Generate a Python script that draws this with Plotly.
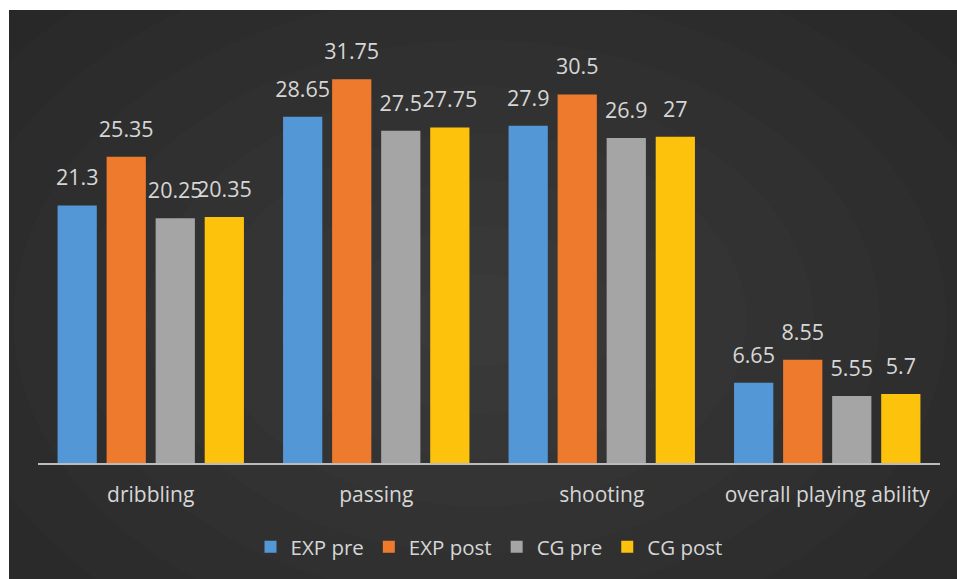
import plotly.graph_objects as go

categories = ["dribbling", "passing", "shooting", "overall playing ability"]
series_names = ["EXP pre", "EXP post", "CG pre", "CG post"]
exp_pre = [21.3, 28.65, 27.9, 6.65]
exp_post = [25.35, 31.75, 30.5, 8.55]
cg_pre = [20.25, 27.5, 26.9, 5.55]
cg_post = [20.35, 27.75, 27, 5.7]
series_values = [exp_pre, exp_post, cg_pre, cg_post]
colors = ["#5497d6", "#ee7a2e", "#a5a5a5", "#fdc20c"]

FONT = "Open Sans"
TXT = "#d6d6d6"

fig = go.Figure()
for i, (name, vals, col) in enumerate(zip(series_names, series_values, colors)):
    fig.add_trace(go.Bar(
        x=categories, y=vals, name=name, marker=dict(color=col, line=dict(width=0)),
        offsetgroup=str(i), hoverinfo="skip"))
for i, (name, vals) in enumerate(zip(series_names, series_values)):
    fig.add_trace(go.Scatter(
        x=categories, y=vals, mode="markers+text", text=[f"{v:g}" for v in vals],
        textposition="top center", marker=dict(size=22, opacity=0),
        textfont=dict(family=FONT, size=21.5, color=TXT),
        offsetgroup=str(i), showlegend=False, hoverinfo="skip", cliponaxis=False))

# background: white frame + dark panel with soft radial lightening
L, R, T, B = 38, 17, 40, 116
W, H = 957, 579
pw, ph = W - L - R, H - T - B
def px(x):
    return (x - L) / pw
def py(y):
    return (H - B - y) / ph

shapes = [dict(type="rect", xref="paper", yref="paper", x0=px(9), x1=px(957), y0=py(579), y1=py(10),
               fillcolor="#282828", line=dict(width=0), layer="below")]
n = 9
for k in range(n):
    f = 1 - k / n
    cx, cy = 480, 320
    rx, ry = 600 * f, 420 * f
    shapes.append(dict(type="circle", xref="paper", yref="paper",
                       x0=px(cx - rx), x1=px(cx + rx), y0=py(cy + ry), y1=py(cy - ry),
                       fillcolor="rgba(255,255,255,0.012)", line=dict(width=0), layer="below"))

fig.update_layout(
    width=W, height=H,
    margin=dict(l=L, r=R, t=T, b=B),
    paper_bgcolor="white", plot_bgcolor="rgba(0,0,0,0)",
    barmode="group", bargap=0.13, bargroupgap=0.2,
    scattermode="group", scattergap=0.13,
    shapes=shapes,
    font=dict(family=FONT, size=21, color=TXT),
    xaxis=dict(showgrid=False, showline=True, linecolor="#bcbcbc", linewidth=2,
               ticks="outside", ticklen=12, tickcolor="rgba(0,0,0,0)",
               tickfont=dict(family=FONT, size=21, color=TXT)),
    yaxis=dict(range=[0, 35], visible=False, showgrid=False, zeroline=False),
    legend=dict(orientation="h", x=0.5, xanchor="center", y=py(547), yanchor="middle",
                font=dict(family=FONT, size=20.5, color=TXT), bgcolor="rgba(0,0,0,0)",
                itemwidth=30, traceorder="normal"),
    showlegend=True,
)

fig.write_html("out.html")
